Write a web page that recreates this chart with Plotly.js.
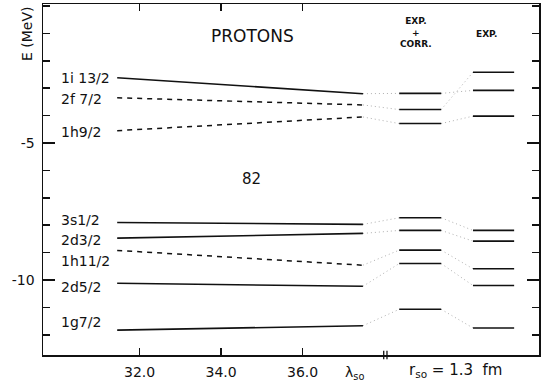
<!DOCTYPE html>
<html>
<head>
<meta charset="utf-8">
<script src="https://cdn.plot.ly/plotly-3.0.1.min.js"></script>
<style>html,body{margin:0;padding:0;background:#fff;}#chart{width:541px;height:381px;}</style>
</head>
<body>
<div id="chart"></div>
<script>
// ---- data ----
var levels = ['1i 13/2', '2f 7/2', '1h9/2', '3s1/2', '2d3/2', '1h11/2', '2d5/2', '1g7/2'];
var lambdaRange = [31.45, 37.48];              // lambda_so where the calculated lines start / end
var eStart = [-2.62, -3.35, -4.55, -7.90, -8.47, -8.92, -10.12, -11.83];
var eEnd   = [-3.20, -3.61, -4.05, -7.97, -8.30, -9.46, -10.23, -11.67];
var dashedLevel = [false, true, true, false, false, true, false, false];
var expCorr = [-3.19, -3.78, -4.29, -7.73, -8.19, -8.91, -9.40, -11.07];
var expVals = [-3.08, -2.42, -4.02, -8.19, -8.58, -9.59, -10.20, -11.75];
var xTicks = [32, 34, 36];
var xTickText = ['32.0', '34.0', '36.0'];
var yTicks = [-10, -5];
var yTickText = ['-10', '-5'];

// ---- layout constants (column positions on the x scale) ----
var corrX = [38.37, 39.40];
var expX = [40.18, 41.19];
var labelShift = [0, -1, -1, 2, -2, -11, -4, 8];
var FONT = 'DejaVu Sans, Arial, sans-serif';

var solidX = [], solidY = [], dashX = [], dashY = [], dotX = [], dotY = [], barX = [], barY = [];
for (var i = 0; i < levels.length; i++) {
  if (dashedLevel[i]) {
    dashX.push(lambdaRange[0], lambdaRange[1], null); dashY.push(eStart[i], eEnd[i], null);
  } else {
    solidX.push(lambdaRange[0], lambdaRange[1], null); solidY.push(eStart[i], eEnd[i], null);
  }
  dotX.push(lambdaRange[1], corrX[0], null); dotY.push(eEnd[i], expCorr[i], null);
  dotX.push(corrX[1], expX[0], null); dotY.push(expCorr[i], expVals[i], null);
  barX.push(corrX[0], corrX[1], null); barY.push(expCorr[i], expCorr[i], null);
  barX.push(expX[0], expX[1], null); barY.push(expVals[i], expVals[i], null);
}

var traces = [
  {x: dotX, y: dotY, mode: 'lines', line: {color: '#b0b0b0', width: 1, dash: '1px,3px'}},
  {x: solidX, y: solidY, mode: 'lines', line: {color: '#111', width: 1.6}},
  {x: dashX, y: dashY, mode: 'lines', line: {color: '#111', width: 1.5, dash: '5px,5px'}},
  {x: barX, y: barY, mode: 'lines', line: {color: '#111', width: 1.6}}
];

function note(x, y, text, size, extra) {
  var a = {x: x, y: y, xref: 'paper', yref: 'paper', text: text, showarrow: false,
    xanchor: 'center', yanchor: 'middle', font: {family: FONT, size: size, color: '#111'}};
  if (extra) { for (var key in extra) { a[key] = extra[key]; } }
  return a;
}

var ann = [];
for (var k = 0; k < levels.length; k++) {
  ann.push({x: 30.02, y: eStart[k], xref: 'x', yref: 'y', text: levels[k], showarrow: false,
    xanchor: 'left', yanchor: 'middle', yshift: labelShift[k], font: {family: FONT, size: 14, color: '#111'}});
}
ann.push(note(0.423, 0.909, 'PROTONS', 17));
ann.push(note(0.421, 0.501, '82', 15));
ann.push(note(0.752, 0.920, '<b>EXP.</b><br><b>+</b><br><b>CORR.</b>', 9));
ann.push(note(0.895, 0.915, '<b>EXP.</b>', 9));
ann.push(note(-0.032, 0.915, 'E (MeV)', 14, {textangle: -90}));
ann.push(note(0.629, -0.051, 'λ<sub>so</sub>', 14));
ann.push(note(0.831, -0.045, 'r<sub>so</sub> = 1.3  fm', 15));

var shapes = [
  {type: 'line', xref: 'x', yref: 'paper', x0: 37.99, x1: 37.99, y0: -0.012, y1: 0.012, line: {color: '#111', width: 1.3}},
  {type: 'line', xref: 'x', yref: 'paper', x0: 38.07, x1: 38.07, y0: -0.012, y1: 0.012, line: {color: '#111', width: 1.3}}
];

var layout = {
  width: 541, height: 381,
  margin: {l: 43, r: 2, t: 4, b: 26, pad: 0},
  paper_bgcolor: '#fff', plot_bgcolor: '#fff',
  showlegend: false, hovermode: false,
  font: {family: FONT, color: '#111'},
  xaxis: {
    range: [29.63, 41.80], tickmode: 'array', tickvals: xTicks, ticktext: xTickText,
    ticks: 'inside', ticklen: 7, tickwidth: 1.5, tickcolor: '#111',
    showline: true, linewidth: 1.5, linecolor: '#111', mirror: 'ticks',
    showgrid: false, zeroline: false, tickfont: {family: FONT, size: 14, color: '#111'},
    ticklabelstandoff: 4
  },
  yaxis: {
    range: [-12.737, 0.073], tickmode: 'array', tickvals: yTicks, ticktext: yTickText,
    ticks: 'inside', ticklen: 12, tickwidth: 1.5, tickcolor: '#111',
    minor: {tickmode: 'linear', tick0: 0, dtick: 1, ticks: 'inside', ticklen: 7, tickwidth: 1.5, tickcolor: '#111'},
    showline: true, linewidth: 1.5, linecolor: '#111', mirror: 'ticks',
    showgrid: false, zeroline: false, tickfont: {family: FONT, size: 14, color: '#111'},
    ticklabelstandoff: 4
  },
  annotations: ann,
  shapes: shapes
};

Plotly.newPlot('chart', traces, layout, {displayModeBar: false, staticPlot: true});
</script>
</body>
</html>
